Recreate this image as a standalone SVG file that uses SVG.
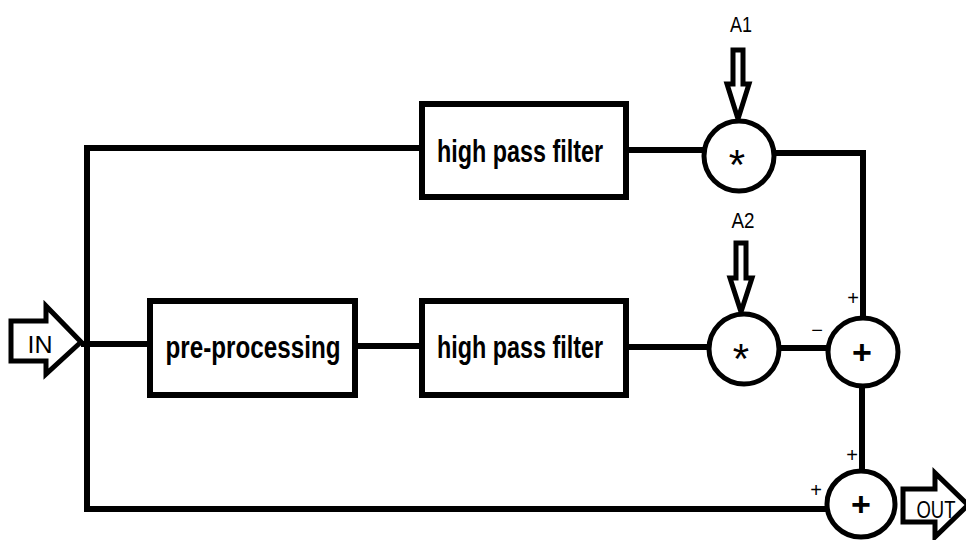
<svg xmlns="http://www.w3.org/2000/svg" width="966" height="540" viewBox="0 0 966 540">
<style>
.ln{fill:none;stroke:#000;stroke-width:6;stroke-linecap:square}
.bx{fill:#fff;stroke:#000;stroke-width:6}
.cr{fill:#fff;stroke:#000;stroke-width:5}
.ar{fill:#fff;stroke:#000;stroke-width:5;stroke-linejoin:miter}
.lb{font-family:"Liberation Sans",Arial,sans-serif;font-weight:bold;font-size:32px;text-anchor:middle}
.sm{font-family:"Liberation Sans",Arial,sans-serif;font-size:22px;text-anchor:middle}
.sg{font-family:"Liberation Sans",Arial,sans-serif;font-size:20px;text-anchor:middle}
.op{font-family:"Liberation Sans",Arial,sans-serif;font-weight:bold;font-size:34px;text-anchor:middle}
.ast{font-family:"Liberation Sans",Arial,sans-serif;font-size:42px;text-anchor:middle}
</style>
<rect width="966" height="540" fill="#fff"/>
<g id="connectors">
<polyline class="ln" points="420,148 87,148 87,509 826,509"/>
<line class="ln" x1="84" y1="344" x2="148" y2="344"/>
<line class="ln" x1="358" y1="346" x2="420" y2="346"/>
<line class="ln" x1="628" y1="150" x2="703" y2="150"/>
<line class="ln" x1="628" y1="347" x2="708" y2="347"/>
<polyline class="ln" points="776,153 863,153 863,318"/>
<line class="ln" x1="780" y1="348" x2="827" y2="348"/>
<line class="ln" x1="862" y1="386" x2="862" y2="470"/>
</g>
<g id="in">
<polygon class="ar" points="11,321 46,321 46,306 81,342 46,374 46,361 11,361"/>
<text class="sm" x="40" y="353" style="font-size:24px" textLength="25" lengthAdjust="spacingAndGlyphs">IN</text>
</g>
<g id="out">
<polygon class="ar" points="903,489 935,489 935,473 968,505 935,537 935,522 903,522"/>
<text class="sm" x="936" y="518" style="font-size:23px" textLength="39" lengthAdjust="spacingAndGlyphs">OUT</text>
</g>
<g id="hpf1">
<rect class="bx" x="422" y="104" width="204" height="93"/>
<text class="lb" x="520" y="162" textLength="166" lengthAdjust="spacingAndGlyphs">high pass filter</text>
</g>
<g id="pre">
<rect class="bx" x="150" y="301" width="205" height="94"/>
<text class="lb" x="253" y="358" textLength="175" lengthAdjust="spacingAndGlyphs">pre-processing</text>
</g>
<g id="hpf2">
<rect class="bx" x="422" y="301" width="204" height="94"/>
<text class="lb" x="520" y="358" textLength="166" lengthAdjust="spacingAndGlyphs">high pass filter</text>
</g>
<g id="a1">
<text class="sm" x="741" y="32" textLength="22" lengthAdjust="spacingAndGlyphs">A1</text>
<polygon class="ar" points="733,50 743,50 743,84 749,84 738,119 727,84 733,84"/>
</g>
<g id="a2">
<text class="sm" x="743" y="228" textLength="23" lengthAdjust="spacingAndGlyphs">A2</text>
<polygon class="ar" points="736,243 746,243 746,278 752,278 741,312 730,278 736,278"/>
</g>
<g id="mul1">
<ellipse class="cr" cx="739" cy="156" rx="35" ry="35"/>
<text class="ast" x="737" y="179">*</text>
</g>
<g id="mul2">
<ellipse class="cr" cx="744" cy="349" rx="35" ry="35"/>
<text class="ast" x="741" y="373">*</text>
</g>
<g id="sum1">
<ellipse class="cr" cx="863" cy="352" rx="35" ry="34"/>
<text class="op" x="862" y="364">+</text>
<text class="sg" x="853" y="305">+</text>
<text class="sg" x="817" y="337">−</text>
</g>
<g id="sum2">
<ellipse class="cr" cx="861" cy="504" rx="34" ry="33"/>
<text class="op" x="861" y="516">+</text>
<text class="sg" x="852" y="462">+</text>
<text class="sg" x="816" y="497">+</text>
</g>
</svg>
